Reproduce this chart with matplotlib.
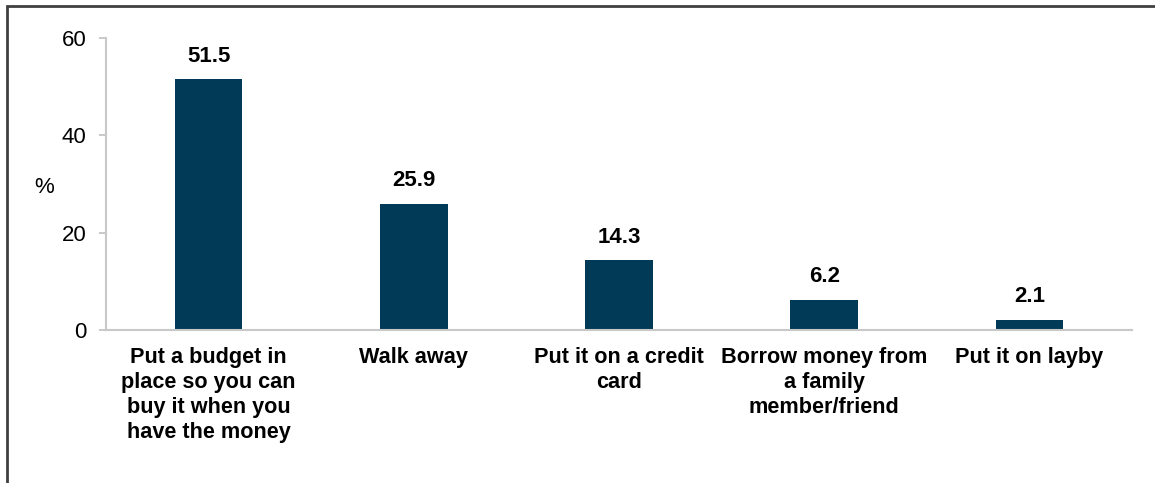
import numpy as np
import matplotlib.pyplot as plt
from matplotlib.patches import Rectangle

plt.rcParams['font.family'] = ['Liberation Sans', 'DejaVu Sans']

categories = ['Put a budget in\nplace so you can\nbuy it when you\nhave the money',
              'Walk away',
              'Put it on a credit\ncard',
              'Borrow money from\na family\nmember/friend',
              'Put it on layby']
values = [51.5, 25.9, 14.3, 6.2, 2.1]

fig = plt.figure(figsize=(11.55, 4.83), dpi=100)
ax = fig.add_axes([106 / 1155, 1 - 330 / 483, 1026 / 1155, 292 / 483])

x = np.arange(len(categories))
ax.bar(x, values, width=0.33, color='#003a56', zorder=2)

for xi, v in zip(x, values):
    ax.annotate(f'{v}', (xi, v), xytext=(0, 9), textcoords='offset points',
                ha='center', va='bottom', fontsize=16, fontweight='bold')

ax.set_xlim(-0.5, len(categories) - 0.5)
ax.set_ylim(0, 60)
ax.set_yticks([0, 20, 40, 60])
ax.set_xticks(x)
ax.set_xticklabels(categories, fontsize=15.6, fontweight='bold', va='top', linespacing=1.25)
ax.tick_params(axis='x', length=0, pad=12)
ax.tick_params(axis='y', length=5, width=1.2, color='#bfbfbf', labelsize=16, pad=9)

for s in ['top', 'right']:
    ax.spines[s].set_visible(False)
for s in ['left', 'bottom']:
    ax.spines[s].set_color('#c8c8c8')
    ax.spines[s].set_linewidth(1.5)

fig.text(44 / 1155, 1 - 188 / 483, '%', fontsize=16, ha='center', va='center')

# outer frame, open at right and bottom edges
fig.patches.append(Rectangle((7 / 1155, -0.1), 1.2, 1 - 6 / 483 + 0.1,
                             transform=fig.transFigure, fill=False,
                             edgecolor='#404040', linewidth=2))

fig.savefig('out.png', dpi=100)
